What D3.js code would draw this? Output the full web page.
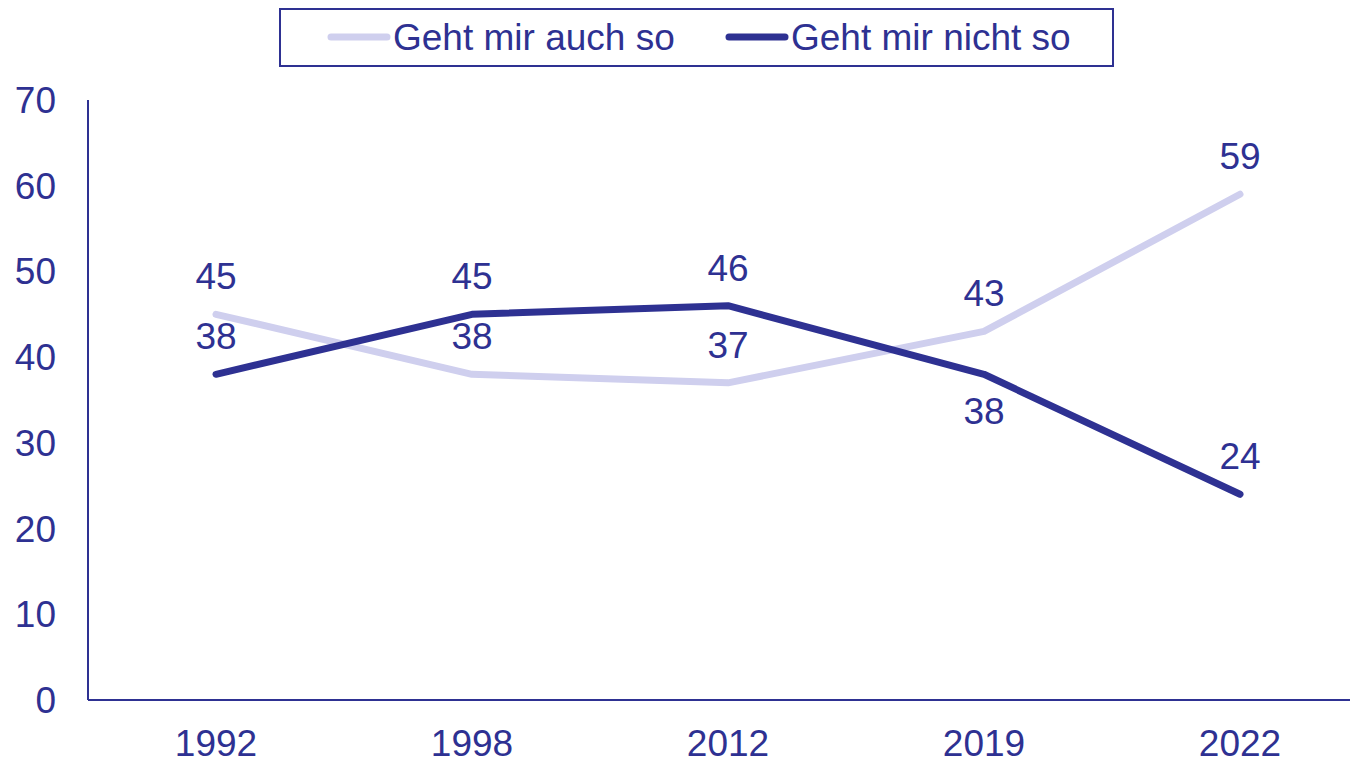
<!DOCTYPE html>
<html>
<head>
<meta charset="utf-8">
<script src="https://cdn.jsdelivr.net/npm/d3@7"></script>
<style>
  body { margin: 0; background: #fff; }
  svg { display: block; font-family: "Liberation Sans", Arial, sans-serif; }
</style>
</head>
<body>
<svg id="chart" width="1350" height="758"></svg>
<script>
const years = ["1992", "1998", "2012", "2019", "2022"];
const auchSo = [45, 38, 37, 43, 59];
const nichtSo = [38, 45, 46, 38, 24];
const yTicks = [0, 10, 20, 30, 40, 50, 60, 70];

const ink = "#2E3192";
const light = "#CFCFEE";
const fontSize = 37;

const svg = d3.select("#chart");
const width = 1350, height = 758;

const x = d3.scalePoint().domain(years).range([216, 1240]);
const y = d3.scaleLinear().domain([0, 70]).range([700, 100]);

// axes
svg.append("line")
  .attr("x1", 88).attr("x2", 88)
  .attr("y1", y(70)).attr("y2", y(0))
  .attr("stroke", ink).attr("stroke-width", 2);
svg.append("line")
  .attr("x1", 88).attr("x2", width)
  .attr("y1", y(0)).attr("y2", y(0))
  .attr("stroke", ink).attr("stroke-width", 2);

svg.selectAll(".ytick").data(yTicks).join("text")
  .attr("class", "ytick")
  .attr("x", 56)
  .attr("y", d => y(d))
  .attr("dy", "0.35em")
  .attr("text-anchor", "end")
  .attr("font-size", fontSize)
  .attr("fill", ink)
  .text(d => d);

svg.selectAll(".xtick").data(years).join("text")
  .attr("class", "xtick")
  .attr("x", d => x(d))
  .attr("y", 743)
  .attr("dy", "0.35em")
  .attr("text-anchor", "middle")
  .attr("font-size", fontSize)
  .attr("fill", ink)
  .text(d => d);

const line = d3.line()
  .x((d, i) => x(years[i]))
  .y(d => y(d));

const series = [
  { name: "Geht mir auch so", values: auchSo, color: light, below: [] },
  { name: "Geht mir nicht so", values: nichtSo, color: ink, below: ["2019"] }
];

series.forEach(s => {
  svg.append("path")
    .attr("d", line(s.values))
    .attr("fill", "none")
    .attr("stroke", s.color)
    .attr("stroke-width", 7)
    .attr("stroke-linejoin", "round")
    .attr("stroke-linecap", "round");
});

series.forEach(s => {
  svg.selectAll(null).data(s.values).join("text")
    .attr("x", (d, i) => x(years[i]))
    .attr("y", (d, i) => s.below.includes(years[i]) ? y(d) + 37 : y(d) - 38)
    .attr("dy", "0.35em")
    .attr("text-anchor", "middle")
    .attr("font-size", fontSize)
    .attr("fill", ink)
    .text(d => d);
});

// legend
const legend = svg.append("g");
legend.append("rect")
  .attr("x", 280).attr("y", 9)
  .attr("width", 833).attr("height", 57)
  .attr("fill", "#fff")
  .attr("stroke", ink).attr("stroke-width", 2);

const legendX = [331, 729];
series.forEach((s, i) => {
  legend.append("line")
    .attr("x1", legendX[i]).attr("x2", legendX[i] + 56)
    .attr("y1", 37).attr("y2", 37)
    .attr("stroke", s.color).attr("stroke-width", 7)
    .attr("stroke-linecap", "round");
  legend.append("text")
    .attr("x", legendX[i] + 62)
    .attr("y", 37)
    .attr("dy", "0.35em")
    .attr("font-size", fontSize)
    .attr("fill", ink)
    .text(s.name);
});
</script>
</body>
</html>
